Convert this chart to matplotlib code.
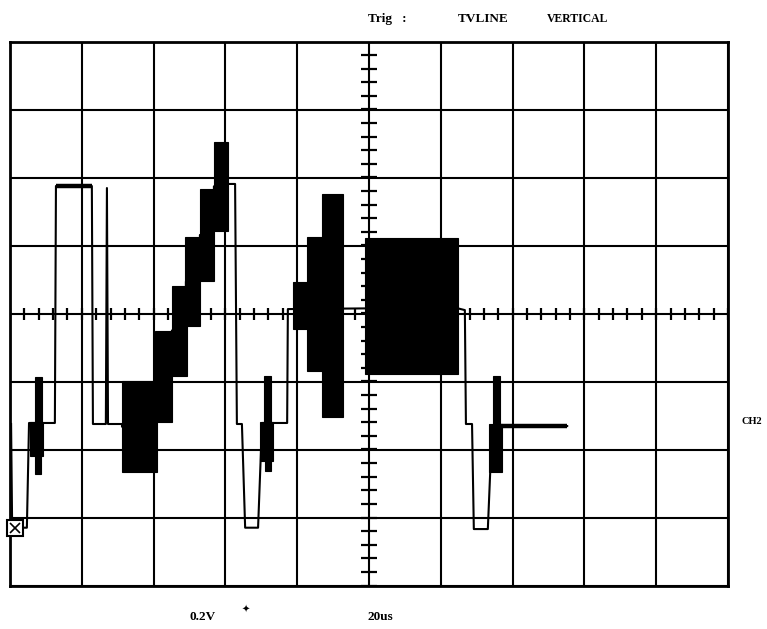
import matplotlib
matplotlib.use("Agg")
import matplotlib.pyplot as plt
import numpy as np

# scope settings: 20 us/div, 0.2 V/div, 10 x 8 divisions
t_per_div = 20.0
v_per_div = 0.2
n_xdiv, n_ydiv = 10, 8

# CH2 trace baseline (time in us from left edge, level in V)
trace_t = [0.3, 0.6, 4.7, 5.3, 12.5, 12.8, 22.8, 23.1, 26.7, 27.0, 27.3,
           31.2, 31.2, 40.9, 40.9, 45.1, 45.1, 49.0, 49.0, 52.9, 52.9,
           56.8, 56.8, 60.7, 60.7, 62.7, 63.2, 64.6, 65.5, 69.1, 70.2,
           77.2, 77.4, 98.9, 124.8, 126.7, 127.0, 128.7, 129.2, 133.1,
           134.3, 155.2]
trace_v = [-0.325, -0.630, -0.630, -0.322, -0.322, 0.375, 0.375, -0.325,
           -0.325, 0.369, -0.325, -0.325, -0.333, -0.333, -0.185, -0.185,
           -0.050, -0.050, 0.094, 0.094, 0.231, 0.231, 0.374, 0.374, 0.381,
           0.381, -0.325, -0.325, -0.630, -0.630, -0.322, -0.322, 0.013,
           0.015, 0.015, 0.010, -0.325, -0.325, -0.634, -0.634, -0.331,
           -0.331]

# noisy flat parts drawn heavier: (t0, t1, level)
noisy_t0 = [12.8, 136.5]
noisy_t1 = [22.8, 155.2]
noisy_v = [0.375, -0.331]

# dense oscillation envelopes: (t0, t1, v_high, v_low)
burst_t0 = [7.0, 5.6, 7.0,                               # line 1 burst
            31.2, 40.4, 45.1, 48.7, 52.9, 56.8,          # staircase
            70.8, 69.6, 71.0,                            # line 2 burst
            78.8, 82.7, 86.9, 98.9,                      # packets
            134.5, 133.4]                                # line 3 burst
burst_t1 = [8.9, 9.2, 8.6,
            40.9, 45.1, 49.3, 52.9, 56.8, 60.7,
            72.7, 73.3, 72.7,
            82.7, 86.9, 92.8, 124.8,
            136.5, 137.0]
burst_hi = [-0.187, -0.319, -0.419,
            -0.199, -0.051, 0.081, 0.225, 0.366, 0.504,
            -0.184, -0.319, -0.434,
            0.093, 0.225, 0.351, 0.222,
            -0.184, -0.325]
burst_lo = [-0.319, -0.419, -0.472,
            -0.466, -0.319, -0.184, -0.037, 0.096, 0.243,
            -0.319, -0.434, -0.463,
            -0.046, -0.169, -0.304, -0.178,
            -0.325, -0.466]

gnd_t, gnd_v = 1.4, -0.630

fig = plt.figure(figsize=(7.67, 6.29), dpi=100)
ax = fig.add_axes([10 / 767, 43.5 / 629, 718 / 767, 544 / 629])
t_max = n_xdiv * t_per_div
v_max = n_ydiv / 2 * v_per_div
ax.set_xlim(0, t_max)
ax.set_ylim(-v_max, v_max)

# graticule
ax.set_xticks(np.arange(0, t_max + 1e-9, t_per_div))
ax.set_yticks(np.arange(-v_max, v_max + 1e-9, v_per_div))
ax.grid(True, color="black", lw=1.5)
ax.tick_params(length=0, labelbottom=False, labelleft=False)
for s in ax.spines.values():
    s.set_linewidth(2.0)

# centre-line sub-division ticks (5 per division)
t_c, v_c = t_max / 2, 0.0
sub_t = np.arange(0, t_max + 1e-9, t_per_div / 5)
sub_v = np.arange(-v_max, v_max + 1e-9, v_per_div / 5)
ax.plot(sub_t, np.full_like(sub_t, v_c), ls="none", marker="|", ms=8.5,
        mew=1.6, color="black")
ax.plot(np.full_like(sub_v, t_c), sub_v, ls="none", marker="_", ms=11,
        mew=1.6, color="black")

# waveform
ax.bar(burst_t0, np.subtract(burst_hi, burst_lo),
       width=np.subtract(burst_t1, burst_t0), bottom=burst_lo,
       align="edge", color="black", lw=0.8, edgecolor="black", zorder=3)
ax.plot(trace_t, trace_v, color="black", lw=1.5, zorder=4)
ax.hlines(noisy_v, noisy_t0, noisy_t1, color="black", lw=3.2, zorder=4)

# ground reference marker
ax.plot(gnd_t, gnd_v, marker="s", ms=12, mfc="white", mec="black", mew=1.5,
        clip_on=False, zorder=5)
ax.plot(gnd_t, gnd_v, marker="x", ms=7.5, mec="black", mew=1.2,
        clip_on=False, zorder=6)

font = dict(family="Liberation Serif", weight="bold", fontsize=9.5,
            va="center", ha="left")
fig.text(368 / 767, 1 - 19 / 629, "Trig   :", **font)
fig.text(458 / 767, 1 - 19 / 629, "TVLINE", **font)
fig.text(547 / 767, 1 - 19 / 629, "VERTICAL", **dict(font, fontsize=8.5))
fig.text(190 / 767, 1 - 617 / 629, "0.2V", **font)
fig.text(242 / 767, 1 - 610 / 629, "\u2726", family="DejaVu Sans",
         fontsize=7, va="center", ha="left")
fig.text(367 / 767, 1 - 617 / 629, "20us", **font)
fig.text(742 / 767, 1 - 422 / 629, "CH2", **dict(font, fontsize=7.5))

fig.savefig("out.png", dpi=100)
